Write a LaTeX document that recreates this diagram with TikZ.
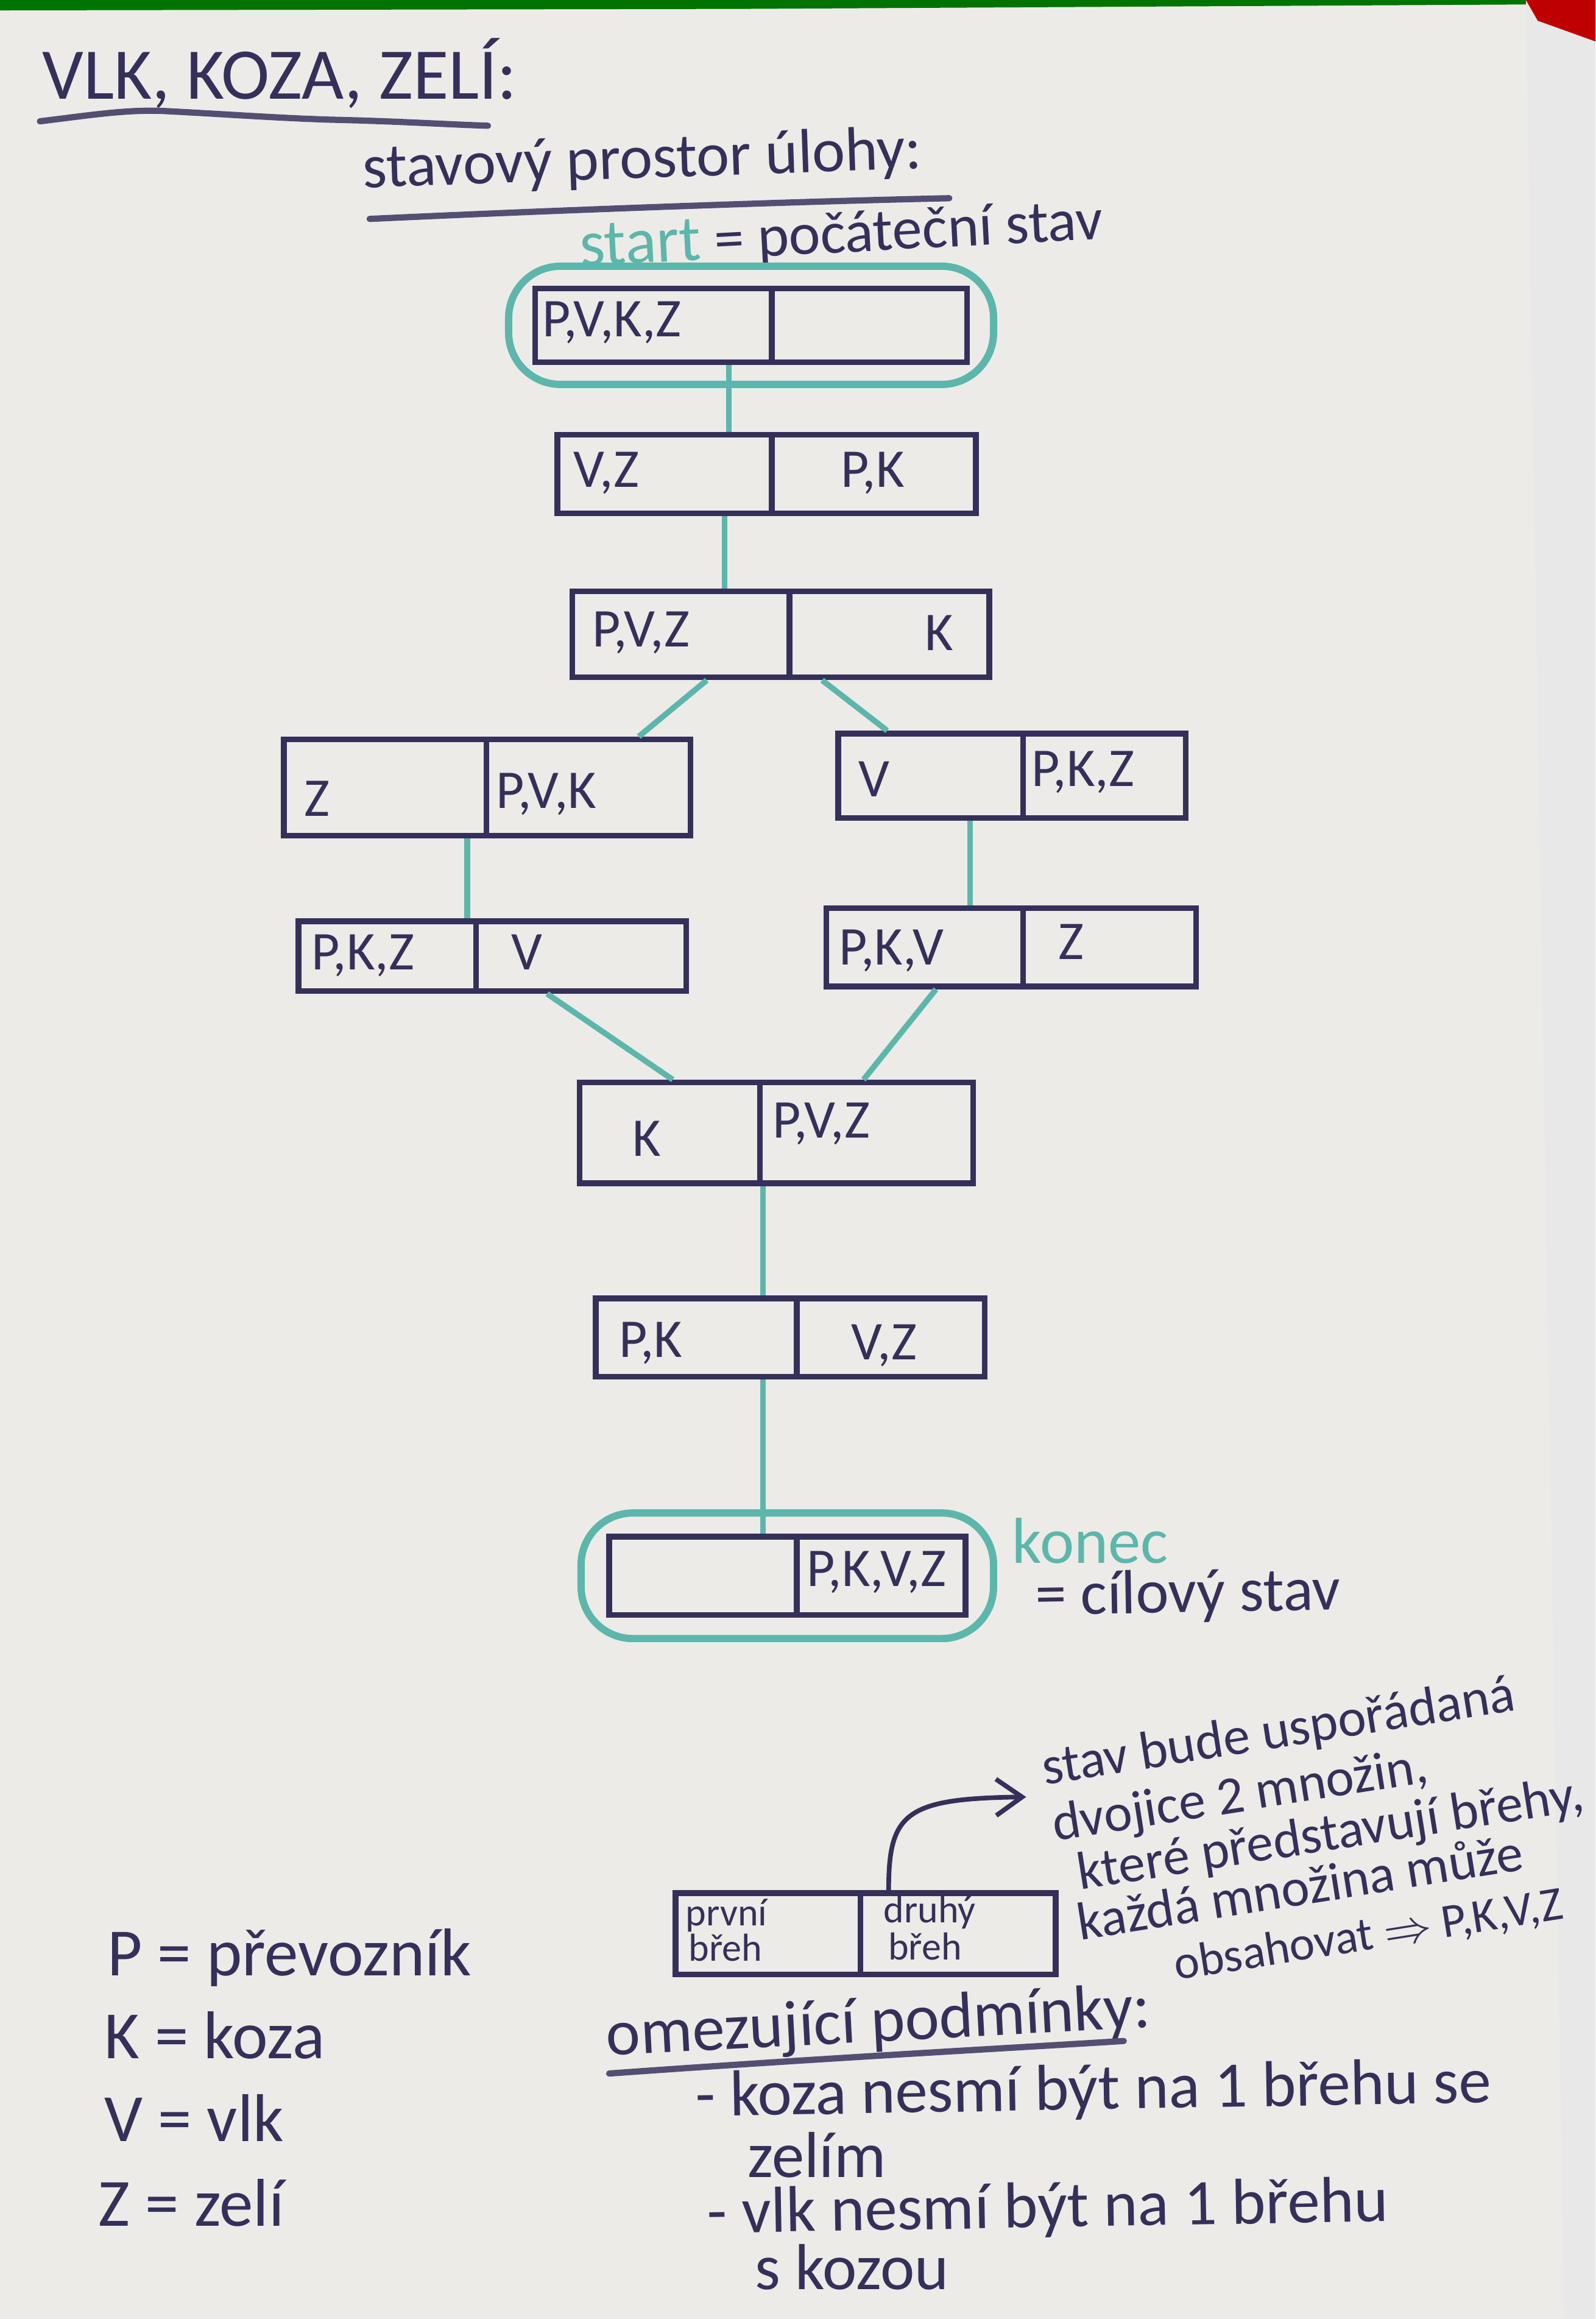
\documentclass[tikz,border=0pt]{standalone}
\usepackage{fontspec}
\setmainfont{Carlito}
\usetikzlibrary{fit,arrows.meta}
\definecolor{inkc}{HTML}{35305A}
\definecolor{tealc}{HTML}{5DB6AC}
\definecolor{paper}{HTML}{EDEBE7}
\newcommand\fs[1]{\fontsize{#1}{#1}\selectfont}
\tikzset{
  cell/.style={draw=inkc, line width=1.1pt, inner sep=0pt, anchor=north west},
  lab/.style={text=inkc, font=\fs{10.5}, anchor=west, inner sep=0pt},
  small/.style={text=inkc, font=\fs{7.5}, anchor=base west, inner sep=0pt},
  link/.style={draw=tealc, line width=1.1pt},
  ring/.style={draw=tealc, line width=1.4pt, rounded corners=0.35cm, inner sep=0pt},
  hand/.style={text=inkc, font=\fs{12}, anchor=base west, inner sep=0pt},
  para/.style={hand, font=\fs{10.3}, rotate=9},
  uline/.style={draw=inkc!85, line width=1.2pt, line cap=round},
  pointer/.style={draw=inkc, line width=0.9pt, -{Straight Barb[length=5pt,width=7pt]}},
}
\newcommand\cellbox[5]{%
  \node[cell, minimum width={(#4-#2)*0.284528pt}, minimum height={(#5-#3)*0.284528pt}] (#1) at (#2,#3) {};}
\begin{document}
\begin{tikzpicture}[x=0.01cm,y=-0.01cm]
\useasboundingbox (0,0) rectangle (1079,1568);
\fill[paper] (0,0) rectangle (1079,1568);
\fill[black!9] (1032,0) -- (1079,0) -- (1079,1568) -- (1058,1568) -- cycle;
\fill[green!45!black] (0,0) -- (1032,0) -- (1032,3) -- (500,6) -- (0,7) -- cycle;
\fill[red!75!black] (1032,0) -- (1079,0) -- (1079,28) -- (1040,14) -- cycle;

% headings
\node[hand, font=\fs{14}] (title) at (28,67) {VLK, KOZA, ZELÍ:};
\draw[uline] (27,82) .. controls (60,78) and (85,74) .. (110,75) .. controls (150,77) and (190,80) .. (227,81) .. controls (270,82) and (300,84) .. (330,85);
\node[hand, rotate=2] (sp) at (245,127) {stavový prostor úlohy:};
\draw[uline] (250,148) .. controls (400,141) and (550,136) .. (642,134);
\node[hand, rotate=3, font=\fs{11.5}] (start) at (392,180) {\textcolor{tealc}{\fs{12.5}start} = počáteční stav};

% state boxes
\cellbox{b1l}{360}{193}{520}{243}\cellbox{b1r}{520}{193}{652}{243}
\cellbox{b2l}{375}{292}{520}{345}\cellbox{b2r}{520}{292}{658}{345}
\cellbox{b3l}{385}{398}{532}{456}\cellbox{b3r}{532}{398}{667}{456}
\cellbox{b4ll}{190}{498}{327}{563}\cellbox{b4lr}{327}{498}{465}{563}
\cellbox{b4rl}{565}{494}{690}{551}\cellbox{b4rr}{690}{494}{800}{551}
\cellbox{b5ll}{200}{621}{320}{668}\cellbox{b5lr}{320}{621}{462}{668}
\cellbox{b5rl}{557}{612}{690}{665}\cellbox{b5rr}{690}{612}{807}{665}
\cellbox{b6l}{390}{730}{512}{798}\cellbox{b6r}{512}{730}{656}{798}
\cellbox{b7l}{401}{876}{537}{929}\cellbox{b7r}{537}{876}{664}{929}
\cellbox{b8l}{410}{1037}{537}{1090}\cellbox{b8r}{537}{1037}{651}{1090}

\node[lab] (t1l) at (366,218) {P,V,K,Z};
\node[lab] (t2l) at (387,320) {V,Z};   \node[lab] (t2r) at (568,320) {P,K};
\node[lab] (t3l) at (400,428) {P,V,Z}; \node[lab] (t3r) at (625,428) {K};
\node[lab] (t4ll) at (205,540) {Z};    \node[lab] (t4lr) at (335,537) {P,V,K};
\node[lab] (t4rl) at (580,527) {V};    \node[lab] (t4rr) at (697,522) {P,K,Z};
\node[lab] (t5ll) at (210,646) {P,K,Z};\node[lab] (t5lr) at (345,644) {V};
\node[lab] (t5rl) at (567,643) {P,K,V};\node[lab] (t5rr) at (715,637) {Z};
\node[lab] (t6l) at (427,770) {K};     \node[lab] (t6r) at (522,760) {P,V,Z};
\node[lab] (t7l) at (418,908) {P,K};   \node[lab] (t7r) at (575,910) {V,Z};
\node[lab] (t8r) at (545,1063) {P,K,V,Z};

% rings
\node[ring, fit=(b1l)(b1r), inner xsep=0.16cm, inner ysep=0.13cm] (startring) {};
\node[ring, fit=(b8l)(b8r), inner xsep=0.17cm, inner ysep=0.14cm] (endring) {};

% connectors
\draw[link] (b1l.south -| 493,0) -- (b2l.north -| 493,0);
\draw[link] (b2l.south -| 490,0) -- (b3l.north -| 490,0);
\draw[link] (b3l.south -| 478,0) -- (b4lr.north -| 432,0);
\draw[link] (b3r.south -| 556,0) -- (b4rl.north -| 600,0);
\draw[link] (b4ll.south -| 316,0) -- (b5ll.north -| 316,0);
\draw[link] (b4rl.south -| 656,0) -- (b5rl.north -| 656,0);
\draw[link] (b5lr.south -| 370,0) -- (b6l.north -| 455,0);
\draw[link] (b5rl.south -| 633,0) -- (b6r.north -| 584,0);
\draw[link] (b6r.south -| 516,0) -- (b7l.north -| 516,0);
\draw[link] (b7r.south -| 516,0) -- (b8l.north -| 516,0);

\node[hand, font=\fs{12.5}, text=tealc] (konec) at (684,1057) {konec};
\node[hand, font=\fs{12}, rotate=1] (cil) at (700,1092) {= cílový stav};

% explanation
\cellbox{exl}{455}{1278}{580}{1333}\cellbox{exr}{580}{1278}{712}{1333}
\node[small] (exlt1) at (463,1302) {první};
\node[small] (exlt2) at (465,1326) {břeh};
\node[small] (exrt1) at (597,1300) {druhý};
\node[small] (exrt2) at (600,1325) {břeh};
\coordinate (tip) at (694,1215);
\draw[pointer] (exr.north -| 601,0) .. controls (601,1226) and (612,1216) .. (tip);
\node[para] (p1) at (706,1207) {stav bude uspořádaná};
\node[para] (p2) at (713,1245) {dvojice 2 množin,};
\node[para] (p3) at (730,1278) {které představují břehy,};
\node[para] (p4) at (730,1312) {každá množina může};
\node[para, font=\fs{9.2}] (p5) at (795,1339) {obsahovat $\Rightarrow$ P,K,V,Z};

% legend
\node[hand, font=\fs{13}] (lp) at (72,1336) {P = převozník};
\node[hand, font=\fs{13}] (lk) at (70,1392) {K = koza};
\node[hand, font=\fs{13}] (lv) at (70,1448) {V = vlk};
\node[hand, font=\fs{13}] (lz) at (66,1505) {Z = zelí};

% constraints
\node[hand, rotate=3, font=\fs{12.5}] (om) at (410,1390) {omezující podmínky:};
\draw[uline] (412,1402) .. controls (550,1392) and (680,1385) .. (760,1380);
\node[hand, rotate=1, font=\fs{12.5}] (c1) at (470,1431) {- koza nesmí být na 1 břehu se};
\node[hand, font=\fs{12.5}] (c1b) at (505,1472) {zelím};
\node[hand, rotate=1, font=\fs{12.5}] (c2) at (478,1510) {- vlk nesmí být na 1 břehu};
\node[hand, font=\fs{12.5}] (c2b) at (510,1548) {s kozou};
\end{tikzpicture}
\end{document}
